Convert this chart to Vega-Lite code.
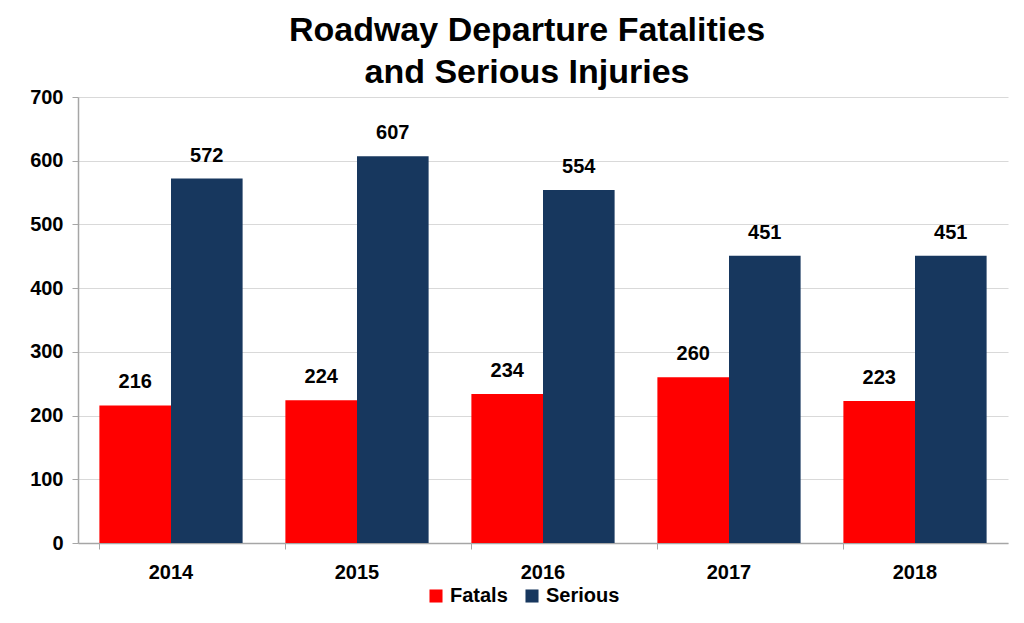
{
  "$schema": "https://vega.github.io/schema/vega-lite/v6.json",
  "width": 930,
  "height": 446,
  "autosize": {"type": "none"},
  "padding": {"left": 78, "top": 97, "right": 16, "bottom": 80},
  "background": "white",
  "title": {
    "text": ["Roadway Departure Fatalities", "and Serious Injuries"],
    "font": "Liberation Sans",
    "fontSize": 34,
    "fontWeight": "bold",
    "color": "#000000",
    "lineHeight": 42,
    "anchor": "middle",
    "dx": -16,
    "offset": -3
  },
  "data": {
    "values": [
      {"year": "2014", "type": "Fatals", "value": 216},
      {"year": "2014", "type": "Serious", "value": 572},
      {"year": "2015", "type": "Fatals", "value": 224},
      {"year": "2015", "type": "Serious", "value": 607},
      {"year": "2016", "type": "Fatals", "value": 234},
      {"year": "2016", "type": "Serious", "value": 554},
      {"year": "2017", "type": "Fatals", "value": 260},
      {"year": "2017", "type": "Serious", "value": 451},
      {"year": "2018", "type": "Fatals", "value": 223},
      {"year": "2018", "type": "Serious", "value": 451}
    ]
  },
  "encoding": {
    "x": {
      "field": "year",
      "type": "nominal",
      "scale": {"paddingInner": 0.23, "paddingOuter": 0.115},
      "axis": {
        "title": null,
        "labelAngle": 0,
        "labelFont": "Liberation Sans",
        "labelFontSize": 20,
        "labelFontWeight": "bold",
        "labelColor": "#000000",
        "labelPadding": 13,
        "bandPosition": 0,
        "ticks": true,
        "tickSize": 6,
        "tickColor": "#a6a6a6",
        "domainColor": "#a6a6a6",
        "domainWidth": 1.5,
        "grid": false
      }
    },
    "xOffset": {"field": "type", "type": "nominal", "sort": ["Fatals", "Serious"], "scale": {"paddingInner": 0}},
    "y": {
      "field": "value",
      "type": "quantitative",
      "scale": {"domain": [0, 700], "nice": false},
      "axis": {
        "title": null,
        "values": [0, 100, 200, 300, 400, 500, 600, 700],
        "labelFont": "Liberation Sans",
        "labelFontSize": 20,
        "labelFontWeight": "bold",
        "labelColor": "#000000",
        "labelPadding": 9,
        "tickSize": 6,
        "tickColor": "#a6a6a6",
        "domainColor": "#a6a6a6",
        "domainWidth": 1.5,
        "gridColor": "#d9d9d9",
        "gridWidth": 1
      }
    },
    "color": {
      "field": "type",
      "type": "nominal",
      "sort": ["Fatals", "Serious"],
      "scale": {"domain": ["Fatals", "Serious"], "range": ["#FF0000", "#17375E"]},
      "legend": {
        "title": null,
        "orient": "none",
        "direction": "horizontal",
        "legendX": 348,
        "legendY": 489,
        "symbolType": "square",
        "symbolSize": 170,
        "symbolStrokeWidth": 0,
        "labelFont": "Liberation Sans",
        "labelFontSize": 20,
        "labelFontWeight": "bold",
        "labelColor": "#000000",
        "columnPadding": 14,
        "labelOffset": 4
      }
    }
  },
  "layer": [
    {"mark": {"type": "bar"}},
    {
      "mark": {
        "type": "text",
        "dy": -13,
        "baseline": "bottom",
        "font": "Liberation Sans",
        "fontSize": 20,
        "fontWeight": "bold",
        "color": "#000000"
      },
      "encoding": {
        "text": {"field": "value", "type": "quantitative"},
        "color": {"value": "#000000"}
      }
    }
  ],
  "config": {"view": {"stroke": null}}
}
